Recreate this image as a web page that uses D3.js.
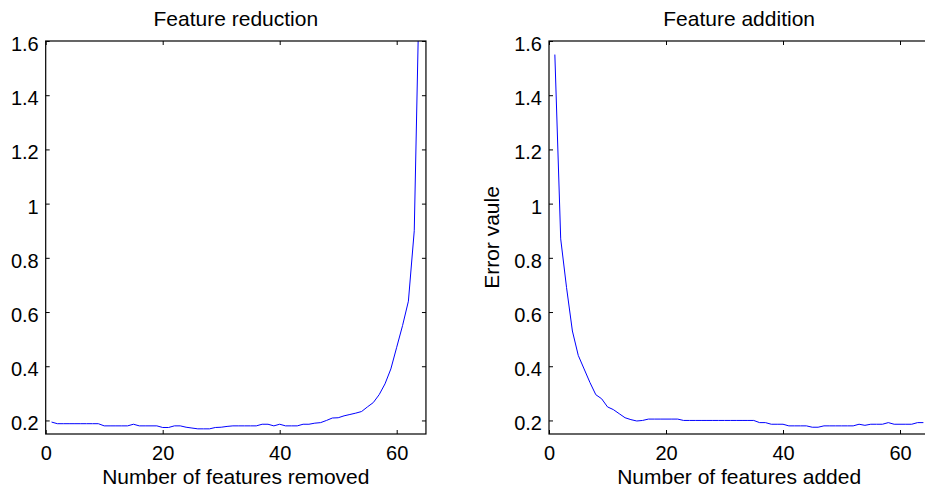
<!DOCTYPE html>
<html>
<head>
<meta charset="utf-8">
<script src="https://cdn.jsdelivr.net/npm/d3@7"></script>
<style>
  body { margin: 0; background: #fff; }
  svg { display: block; font-family: "Liberation Sans", Arial, Helvetica, sans-serif; }
  .axis path { display: none; }
  .axis line { stroke: #000; }
  .axis text { font-size: 20px; fill: #000; font-family: "Liberation Sans", Arial, sans-serif; }
</style>
</head>
<body>
<svg id="chart" width="925" height="494"></svg>
<script>
// feature reduction: error after removing n features
const reductionValues = [
  0.194, 0.188, 0.188, 0.188, 0.188, 0.188, 0.188, 0.188, 0.188, 0.180,
  0.180, 0.180, 0.180, 0.180, 0.186, 0.180, 0.180, 0.180, 0.180, 0.174,
  0.174, 0.180, 0.180, 0.175, 0.172, 0.169, 0.169, 0.169, 0.174, 0.175,
  0.178, 0.180, 0.180, 0.180, 0.180, 0.180, 0.186, 0.186, 0.180, 0.186,
  0.180, 0.180, 0.180, 0.186, 0.186, 0.190, 0.192, 0.200, 0.209, 0.210,
  0.217, 0.222, 0.227, 0.233, 0.250, 0.266, 0.295, 0.335, 0.390, 0.470,
  0.550, 0.640, 0.900, 1.950
];
// feature addition: error after adding n features
const additionValues = [
  1.550, 0.870, 0.690, 0.530, 0.440, 0.390, 0.340, 0.295, 0.280, 0.250,
  0.240, 0.225, 0.210, 0.203, 0.198, 0.200, 0.205, 0.205, 0.205, 0.205,
  0.205, 0.205, 0.200, 0.200, 0.200, 0.200, 0.200, 0.200, 0.200, 0.200,
  0.200, 0.200, 0.200, 0.200, 0.200, 0.192, 0.192, 0.186, 0.186, 0.186,
  0.180, 0.180, 0.180, 0.180, 0.175, 0.175, 0.180, 0.180, 0.180, 0.180,
  0.180, 0.180, 0.186, 0.182, 0.186, 0.186, 0.186, 0.192, 0.186, 0.186,
  0.186, 0.186, 0.192, 0.192
];
const xTicks = [0, 20, 40, 60];
const yTicks = [0.2, 0.4, 0.6, 0.8, 1, 1.2, 1.4, 1.6];

const svg = d3.select("#chart");
const plotTop = 41, plotBottom = 434;

function drawPanel(left, values, title, xLabel, yLabel) {
  const x = d3.scaleLinear().domain([0, 65]).range([left, left + 380.25]);
  const y = d3.scaleLinear().domain([0.15, 1.6]).range([plotBottom, plotTop]);

  const g = svg.append("g");
  const clipId = "clip" + Math.round(left);
  g.append("clipPath").attr("id", clipId)
    .append("rect")
    .attr("x", x(0)).attr("y", y(1.6))
    .attr("width", x(65) - x(0)).attr("height", y(0.15) - y(1.6));

  const line = d3.line()
    .x((d, i) => x(i + 1))
    .y((d) => y(d));

  g.append("path")
    .datum(values)
    .attr("clip-path", `url(#${clipId})`)
    .attr("fill", "none")
    .attr("stroke", "#0000ff")
    .attr("stroke-width", 1)
    .attr("d", line);

  // box with inward ticks on all sides
  g.append("g").attr("class", "axis")
    .attr("transform", `translate(0,${plotBottom})`)
    .call(d3.axisBottom(x).tickValues(xTicks).tickSizeInner(-4).tickSizeOuter(0).tickPadding(12));
  g.append("g").attr("class", "axis")
    .attr("transform", `translate(0,${plotTop})`)
    .call(d3.axisTop(x).tickValues(xTicks).tickSizeInner(-4).tickSizeOuter(0).tickFormat(""));
  g.append("g").attr("class", "axis")
    .attr("transform", `translate(${x(0)},0)`)
    .call(d3.axisLeft(y).tickValues(yTicks).tickSizeInner(-4).tickSizeOuter(0).tickPadding(7).tickFormat(d3.format("~g")))
    .selectAll("text").attr("dy", "0.47em");
  g.append("g").attr("class", "axis")
    .attr("transform", `translate(${x(65)},0)`)
    .call(d3.axisRight(y).tickValues(yTicks).tickSizeInner(-4).tickSizeOuter(0).tickFormat(""));

  g.append("rect")
    .attr("x", x(0)).attr("y", plotTop)
    .attr("width", x(65) - x(0)).attr("height", plotBottom - plotTop)
    .attr("fill", "none").attr("stroke", "#000").attr("stroke-width", 1.2);

  const cx = (x(0) + x(65)) / 2;
  g.append("text")
    .attr("x", cx).attr("y", 26)
    .attr("text-anchor", "middle")
    .attr("font-size", 21)
    .text(title);
  g.append("text")
    .attr("x", cx).attr("y", 484)
    .attr("text-anchor", "middle")
    .attr("font-size", 21)
    .text(xLabel);
  if (yLabel) {
    g.append("text")
      .attr("transform", `translate(${x(0) - 50},${(plotTop + plotBottom) / 2}) rotate(-90)`)
      .attr("text-anchor", "middle")
      .attr("font-size", 21)
      .text(yLabel);
  }
}

drawPanel(45.7, reductionValues, "Feature reduction", "Number of features removed", null);
drawPanel(549, additionValues, "Feature addition", "Number of features added", "Error vaule");
</script>
</body>
</html>
